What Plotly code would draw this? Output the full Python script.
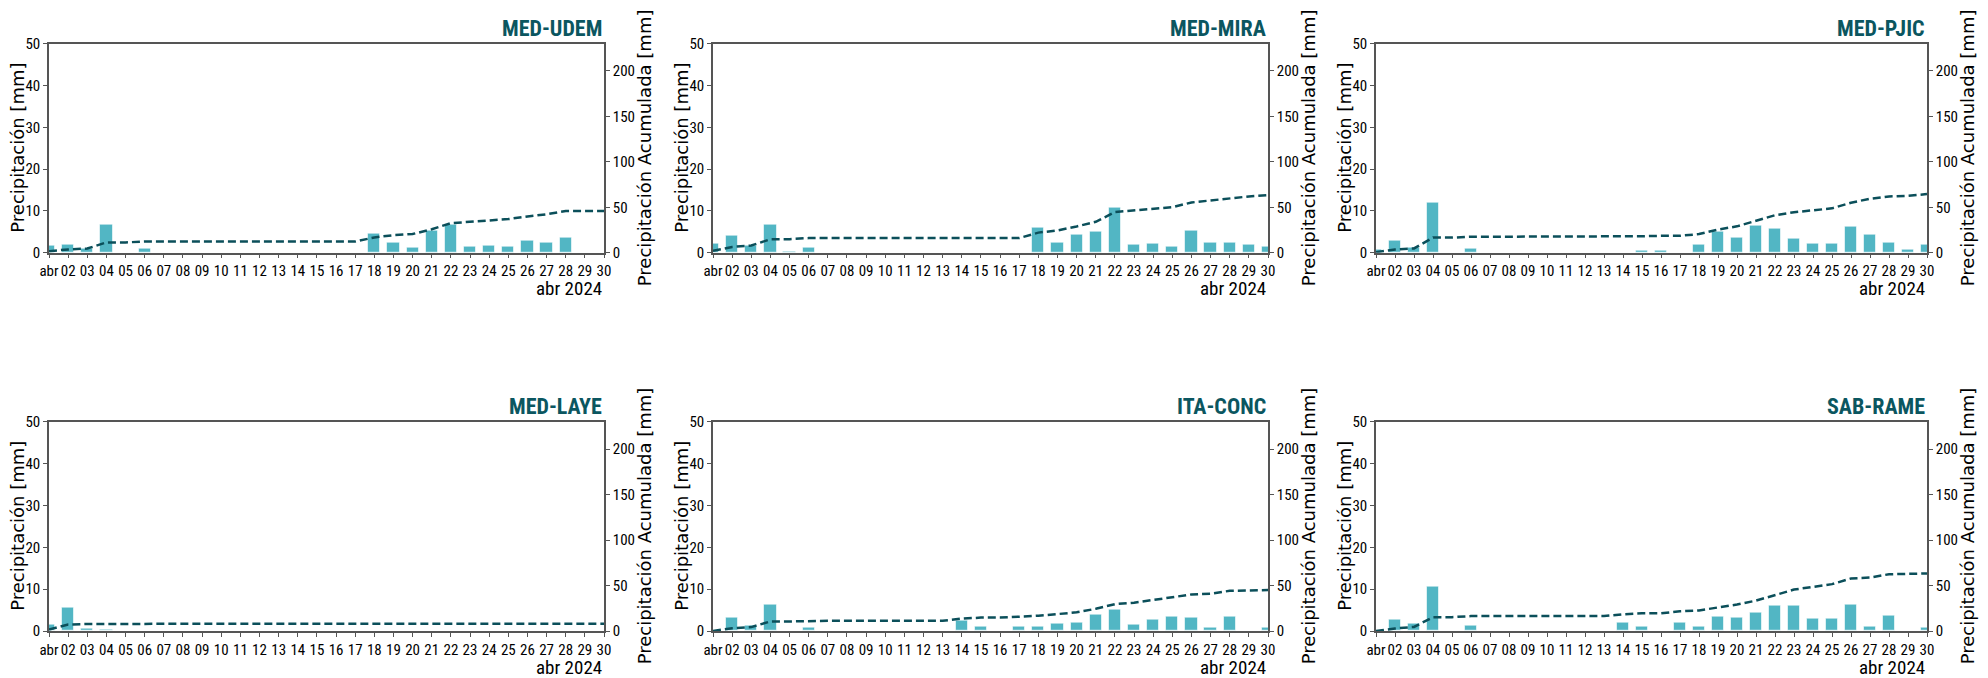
import numpy as np
import plotly.graph_objects as go

# estaciones y dias (abril 2024)
stations = ["MED-UDEM", "MED-MIRA", "MED-PJIC", "MED-LAYE", "ITA-CONC", "SAB-RAME"]
dates = [f"2024-04-{d:02d}" for d in range(1, 31)]
day_labels = ["abr"] + [f"{d:02d}" for d in range(2, 31)]

# precipitacion diaria [mm]
med_udem = [1.6, 2.0, 1.0, 6.7, 0.0, 1.0, 0.0, 0.0, 0.0, 0.0,
            0.0, 0.0, 0.0, 0.0, 0.0, 0.0, 0.0, 4.5, 2.5, 1.2,
            5.3, 6.7, 1.4, 1.7, 1.4, 2.9, 2.4, 3.6, 0.0, 0.0]
med_mira = [2.2, 4.1, 1.7, 6.7, 0.2, 1.2, 0.0, 0.0, 0.0, 0.0,
            0.0, 0.0, 0.0, 0.0, 0.0, 0.0, 0.0, 6.0, 2.4, 4.4,
            5.1, 10.7, 1.8, 2.2, 1.4, 5.2, 2.4, 2.4, 1.8, 1.4]
med_pjic = [0.6, 2.9, 1.2, 11.9, 0.0, 1.0, 0.0, 0.0, 0.0, 0.0,
            0.0, 0.0, 0.0, 0.0, 0.5, 0.5, 0.0, 1.9, 5.0, 3.5,
            6.4, 5.8, 3.3, 2.2, 2.1, 6.2, 4.4, 2.5, 0.7, 1.9]
med_laye = [1.6, 5.5, 0.6, 0.2, 0.0, 0.0, 0.0, 0.0, 0.0, 0.0,
            0.0, 0.0, 0.0, 0.0, 0.0, 0.0, 0.0, 0.0, 0.0, 0.0,
            0.0, 0.0, 0.0, 0.0, 0.0, 0.0, 0.0, 0.0, 0.0, 0.0]
ita_conc = [0.0, 3.1, 1.2, 6.2, 0.0, 0.7, 0.0, 0.0, 0.0, 0.0,
            0.0, 0.0, 0.0, 2.4, 1.1, 0.0, 1.0, 1.1, 1.8, 1.9,
            3.9, 5.1, 1.6, 2.7, 3.3, 3.1, 0.7, 3.3, 0.0, 0.8]
sab_rame = [0.0, 2.8, 1.7, 10.7, 0.0, 1.2, 0.0, 0.0, 0.0, 0.0,
            0.0, 0.0, 0.0, 2.0, 1.1, 0.0, 2.1, 1.0, 3.3, 3.2,
            4.3, 6.0, 6.1, 3.0, 3.0, 6.2, 1.0, 3.7, 0.0, 0.8]
series = [med_udem, med_mira, med_pjic, med_laye, ita_conc, sab_rame]

left_ticks = [0, 10, 20, 30, 40, 50]
right_ticks = [0, 50, 100, 150, 200]

W, H = 1988, 678
col_left = [49, 713, 1376]
col_right = [604, 1268, 1927]
row_top = [43.7, 421.7]
row_bottom = [252.7, 631]

bar_color = "#52b6c4"
line_color = "#0b4f5a"
title_color = "#0b5660"
narrow = "Roboto Condensed, Roboto, sans-serif"
wide = "DejaVu Sans, Verdana, sans-serif"


def px(x):
    return x / W


def py(y):
    return 1 - y / H


fig = go.Figure()
annotations = []

for k, (name, vals) in enumerate(zip(stations, series)):
    r, c = divmod(k, 3)
    xa = "x" if k == 0 else f"x{k + 1}"
    yl = "y" if k == 0 else f"y{2 * k + 1}"
    yr = f"y{2 * k + 2}"

    fig.add_trace(go.Bar(
        x=dates, y=vals, xaxis=xa, yaxis=yl,
        width=0.64 * 86400000,
        marker=dict(color=bar_color, line=dict(color="rgba(255,255,255,0.6)", width=1)),
    ))
    fig.add_trace(go.Scatter(
        x=dates, y=np.cumsum(vals), xaxis=xa, yaxis=yr, mode="lines",
        line=dict(color=line_color, width=2.5, dash="8px,4px"),
    ))

    l, rr = col_left[c], col_right[c]
    t, b = row_top[r], row_bottom[r]

    fig.layout["xaxis" + ("" if k == 0 else str(k + 1))] = dict(
        domain=[px(l), px(rr)], anchor=yl, type="date",
        range=["2024-04-01", "2024-04-30"],
        tickvals=dates, ticktext=day_labels, tickangle=0,
        ticks="outside", ticklen=4, tickcolor="#555",
        showline=True, linecolor="#555", linewidth=1.5, mirror=True,
        showgrid=False, zeroline=False, automargin=False,
        tickfont=dict(family=narrow, size=15, color="black"),
    )
    fig.layout["yaxis" + ("" if k == 0 else str(2 * k + 1))] = dict(
        domain=[py(b), py(t)], anchor=xa, range=[0, 50], tickvals=left_ticks,
        ticks="outside", ticklen=4, tickcolor="#555",
        showline=True, linecolor="#555", linewidth=1.5,
        showgrid=False, zeroline=False, automargin=False,
        tickfont=dict(family=narrow, size=15, color="black"),
    )
    fig.layout[f"yaxis{2 * k + 2}"] = dict(
        overlaying=yl, side="right", anchor=xa, range=[0, 230], tickvals=right_ticks,
        ticks="outside", ticklen=4, tickcolor="#555",
        showline=True, linecolor="#555", linewidth=1.5,
        showgrid=False, zeroline=False, automargin=False,
        tickfont=dict(family=narrow, size=15, color="black"),
    )

    annotations += [
        dict(text=f"<b>{name}</b>", x=px(rr), y=py(t - 15.5), xref="paper", yref="paper",
             xanchor="right", yanchor="middle", showarrow=False,
             font=dict(family=narrow, size=22, color=title_color)),
        dict(text="abr 2024", x=px(rr), y=py(b + 36), xref="paper", yref="paper",
             xanchor="right", yanchor="middle", showarrow=False,
             font=dict(family=narrow, size=19, color="black")),
        dict(text="Precipitación [mm]", x=px(l - 31.5), y=py((t + b) / 2),
             xref="paper", yref="paper", xanchor="center", yanchor="middle",
             textangle=-90, showarrow=False,
             font=dict(family=wide, size=18, color="black")),
        dict(text="Precipitación Acumulada [mm]", x=px(rr + 40), y=py((t + b) / 2),
             xref="paper", yref="paper", xanchor="center", yanchor="middle",
             textangle=-90, showarrow=False,
             font=dict(family=wide, size=18, color="black")),
    ]

fig.update_layout(
    width=W, height=H,
    margin=dict(l=0, r=0, t=0, b=0, pad=0, autoexpand=False),
    showlegend=False,
    plot_bgcolor="white", paper_bgcolor="white",
    bargap=0,
    annotations=annotations,
)

# sin el margen de 8px del body la figura ocupa toda la ventana
fig.write_html("out.html", config={"displayModeBar": False},
               post_script="document.body.style.margin='0';")
